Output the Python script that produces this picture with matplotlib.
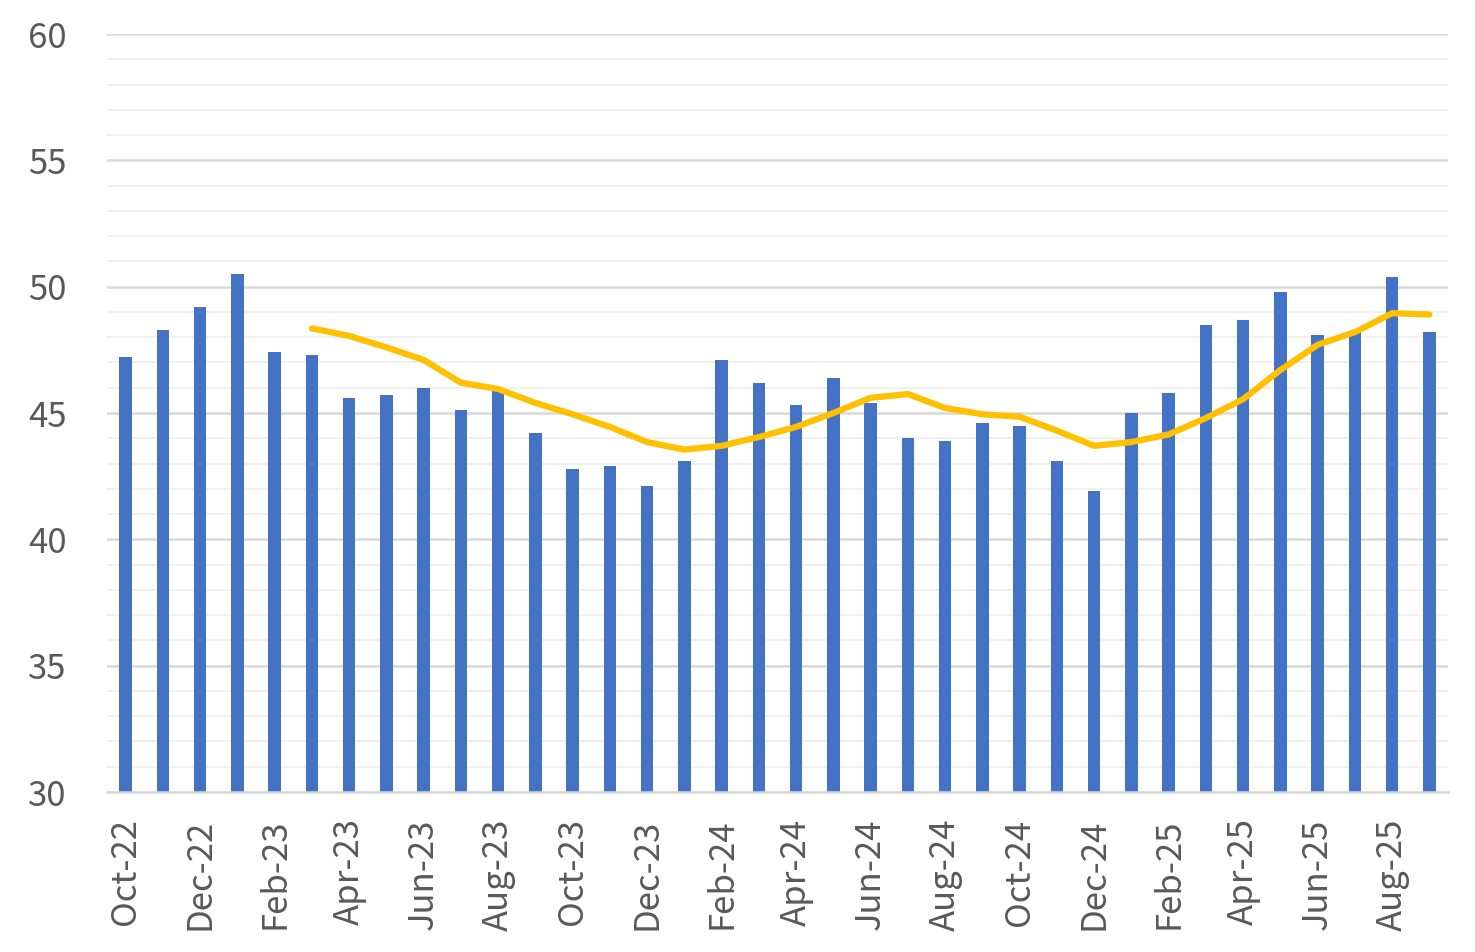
import numpy as np
import matplotlib.pyplot as plt
from matplotlib.ticker import MultipleLocator

plt.rcParams['font.family'] = ['Noto Sans CJK JP', 'DejaVu Sans']

# monthly values Oct-22 .. Sep-25
months = ['Oct-22', 'Nov-22', 'Dec-22', 'Jan-23', 'Feb-23', 'Mar-23', 'Apr-23', 'May-23',
          'Jun-23', 'Jul-23', 'Aug-23', 'Sep-23', 'Oct-23', 'Nov-23', 'Dec-23', 'Jan-24',
          'Feb-24', 'Mar-24', 'Apr-24', 'May-24', 'Jun-24', 'Jul-24', 'Aug-24', 'Sep-24',
          'Oct-24', 'Nov-24', 'Dec-24', 'Jan-25', 'Feb-25', 'Mar-25', 'Apr-25', 'May-25',
          'Jun-25', 'Jul-25', 'Aug-25', 'Sep-25']
bar_vals = [47.2, 48.3, 49.2, 50.5, 47.4, 47.3, 45.6, 45.7, 46.0, 45.1, 45.9, 44.2,
            42.8, 42.9, 42.1, 43.1, 47.1, 46.2, 45.3, 46.4, 45.4, 44.0, 43.9, 44.6,
            44.5, 43.1, 41.9, 45.0, 45.8, 48.5, 48.7, 49.8, 48.1, 48.2, 50.4, 48.2]
# moving average line, starts at Mar-23
line_vals = [None] * 5 + [48.35, 48.05, 47.6, 47.1, 46.2, 45.95, 45.4, 44.95, 44.45,
             43.85, 43.55, 43.7, 44.05, 44.45, 45.0, 45.6, 45.75, 45.2, 44.95, 44.85,
             44.3, 43.7, 43.85, 44.15, 44.8, 45.55, 46.7, 47.7, 48.2, 48.95, 48.9]

x = np.arange(len(months))
line_y = np.array([np.nan if v is None else v for v in line_vals])

fig = plt.figure(figsize=(14.75, 9.52), dpi=100)
ax = fig.add_axes([107 / 1475, 1 - 792 / 952, 1341 / 1475, 758 / 952])

ax.bar(x, np.array(bar_vals) - 30, bottom=30, width=0.34, color='#4472C4', zorder=2)
ax.plot(x, line_y, color='#FFC000', lw=4.5, solid_capstyle='round', zorder=3)

ax.set_xlim(-0.5, len(months) - 0.5)
ax.set_ylim(30, 60)
ax.yaxis.set_major_locator(MultipleLocator(5))
ax.yaxis.set_minor_locator(MultipleLocator(1))
ax.grid(which='major', axis='y', color='#d9d9d9', lw=1.8, zorder=0)
ax.grid(which='minor', axis='y', color='#f0f0f0', lw=1.4, zorder=0)

ax.set_xticks(x[::2])
ax.set_xticklabels(months[::2], rotation=90, fontsize=25, color='#595959')
ax.tick_params(axis='y', labelsize=25, labelcolor='#595959', length=0, pad=29, which='both')
ax.tick_params(axis='x', length=0, pad=19)

for s in ['top', 'right', 'left']:
    ax.spines[s].set_visible(False)
ax.spines['bottom'].set_color('#d9d9d9')
ax.spines['bottom'].set_linewidth(1.8)

fig.savefig('out.png', dpi=100)
